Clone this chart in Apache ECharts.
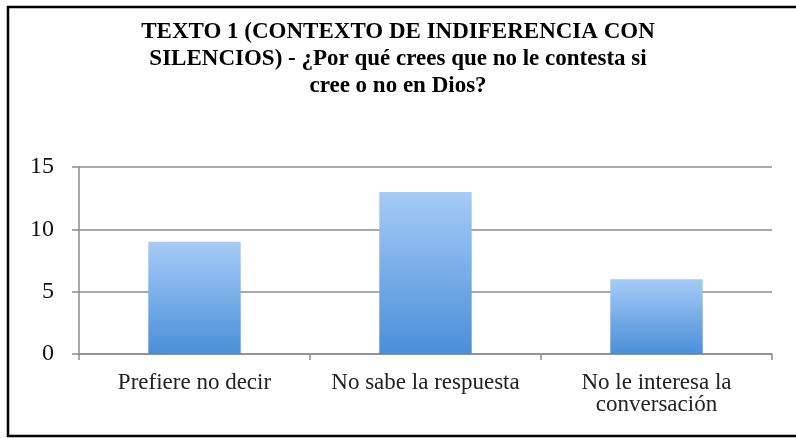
<!DOCTYPE html>
<html>
<head>
<meta charset="utf-8">
<script src="https://cdn.jsdelivr.net/npm/echarts@6/dist/echarts.min.js"></script>
<style>html,body{margin:0;padding:0;background:#fff}#c{width:796px;height:438px}</style>
</head>
<body>
<div id="c"></div>
<script>
const titleText = 'TEXTO 1 (CONTEXTO DE INDIFERENCIA CON\nSILENCIOS) - ¿Por qué crees que no le contesta si\ncree o no en Dios?';
const categories = ['Prefiere no decir', 'No sabe la respuesta', 'No le interesa la\nconversación'];
const values = [9, 13, 6];
const yTicks = [0, 5, 10, 15];

const chart = echarts.init(document.getElementById('c'), null, {renderer: 'canvas'});
const serif = '"Liberation Serif", "DejaVu Serif", serif';
chart.setOption({
  animation: false,
  backgroundColor: '#fff',
  title: {
    text: titleText,
    left: 'center',
    top: 14,
    textStyle: {fontFamily: serif, fontWeight: 'bold', fontSize: 23, lineHeight: 27, color: '#000'}
  },
  graphic: [{
    type: 'rect', silent: true,
    shape: {x: 8, y: 7, width: 800, height: 429},
    style: {fill: 'none', stroke: '#000', lineWidth: 2.5}
  }],
  grid: {left: 79, right: 24, top: 167, bottom: 84},
  xAxis: {
    type: 'category',
    data: categories,
    axisLine: {show: true, lineStyle: {color: '#8c8c8c', width: 1.5}},
    axisTick: {show: true, alignWithLabel: false, length: 6, lineStyle: {color: '#8c8c8c', width: 1.5}},
    axisLabel: {fontFamily: serif, fontSize: 23, color: '#222', lineHeight: 22, margin: 18, interval: 0}
  },
  yAxis: {
    type: 'value',
    min: 0, max: 15, interval: 5,
    axisLine: {show: true, lineStyle: {color: '#8c8c8c', width: 1.5}},
    axisTick: {show: true, length: 7, lineStyle: {color: '#8c8c8c', width: 1.5}},
    axisLabel: {fontFamily: serif, fontSize: 24, color: '#111', margin: 25,
      formatter: v => yTicks.includes(v) ? String(v) : ''},
    splitLine: {show: true, lineStyle: {color: '#8c8c8c', width: 1.5}}
  },
  series: [{
    type: 'bar',
    data: values,
    barWidth: '40%',
    itemStyle: {
      color: new echarts.graphic.LinearGradient(0, 0, 0, 1, [
        {offset: 0, color: '#a6cbf7'},
        {offset: 1, color: '#4a8fd8'}
      ])
    }
  }]
});
</script>
</body>
</html>
